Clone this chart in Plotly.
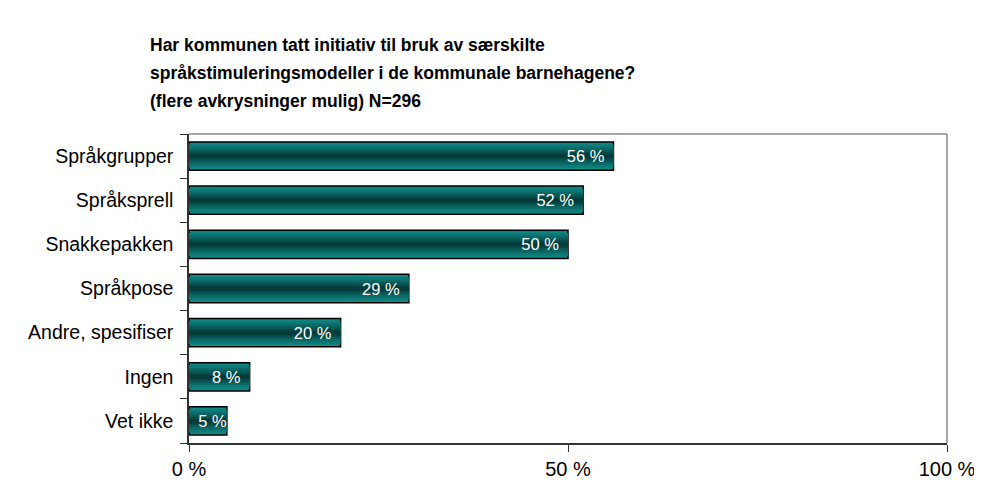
import plotly.graph_objects as go

categories = ["Språkgrupper", "Språksprell", "Snakkepakken", "Språkpose",
              "Andre, spesifiser", "Ingen", "Vet ikke"]
values = [56, 52, 50, 29, 20, 8, 5]
labels = ["56 %", "52 %", "50 %", "29 %", "20 %", "8 %", "5 %"]
x_ticks = [0, 50, 100]
x_tick_labels = ["0 %", "50 %", "100 %"]
title_lines = [
    "Har kommunen tatt initiativ til bruk av særskilte",
    "språkstimuleringsmodeller i de kommunale barnehagene?",
    "(flere avkrysninger mulig) N=296",
]

W, H = 982, 488
OFF = 8  # page body margin
PX0, PX1, PY0, PY1 = 189, 947, 134, 443
L, T = PX0 - OFF, PY0 - OFF
R, B = W + OFF - PX1, H + OFF - PY1

# extra right padding for labels on bars wide enough to hold it
templates = ["%{text}\u00a0\u00a0" if v >= 8 else "%{text}" for v in values]

fig = go.Figure()
layers = [(0.64, "#108783", dict(color="#000000", width=1.5)),
          (0.52, "#0e7a76", dict(width=0)),
          (0.40, "#0b6a67", dict(width=0)),
          (0.28, "#085856", dict(width=0)),
          (0.17, "#064746", dict(width=0)),
          (0.08, "#043a39", dict(width=0))]
for i, (w, c, ln) in enumerate(layers):
    last = i == len(layers) - 1
    fig.add_trace(go.Bar(
        y=categories, x=values, orientation="h", width=w,
        marker=dict(color=c, line=ln),
        text=labels if last else None,
        texttemplate=templates if last else None,
        textposition="inside" if last else "none",
        insidetextanchor="end",
        textfont=dict(color="white", size=16.5, family="Liberation Sans, Arial"),
        constraintext="none",
        cliponaxis=False,
        hoverinfo="skip", showlegend=False,
    ))

fig.update_layout(
    width=W, height=H, barmode="overlay",
    margin=dict(l=L, r=R, t=T, b=B, autoexpand=False),
    plot_bgcolor="white", paper_bgcolor="white",
    font=dict(family="Liberation Sans, Arial", color="#000000"),
)
fig.update_xaxes(
    range=[0, 100], tickvals=x_ticks, ticktext=x_tick_labels,
    showgrid=False, zeroline=False, showline=True, linecolor="#333333", linewidth=1.5,
    ticks="outside", ticklen=7, tickcolor="#333333", automargin=False,
    tickfont=dict(size=20, family="Liberation Sans, Arial"),
    ticklabelstandoff=0,
)
fig.update_yaxes(
    categoryorder="array", categoryarray=categories[::-1],
    showgrid=False, zeroline=False, showline=True, linecolor="#333333", linewidth=1.5,
    ticks="outside", ticklen=7, tickcolor="#333333", tickson="boundaries",
    automargin=False,
    tickfont=dict(size=19.5, family="Liberation Sans, Arial"),
    ticklabelstandoff=10,
)
fig.add_shape(type="line", xref="x domain", yref="y domain", x0=0, x1=1, y0=1, y1=1,
              line=dict(color="#888888", width=1.5), layer="below")
fig.add_shape(type="line", xref="x domain", yref="y domain", x0=1, x1=1, y0=0, y1=1,
              line=dict(color="#888888", width=1.5), layer="below")

pw, ph = PX1 - PX0, PY1 - PY0
for i, line in enumerate(title_lines):
    ypx = 45 + 28 * i
    fig.add_annotation(
        text="<b>" + line + "</b>", xref="paper", yref="paper",
        x=(148 - PX0) / pw, y=(PY1 - ypx) / ph,
        xanchor="left", yanchor="middle", showarrow=False,
        font=dict(size=17.5, family="Liberation Sans, Arial", color="#000000"),
    )

fig.write_html("out.html")
